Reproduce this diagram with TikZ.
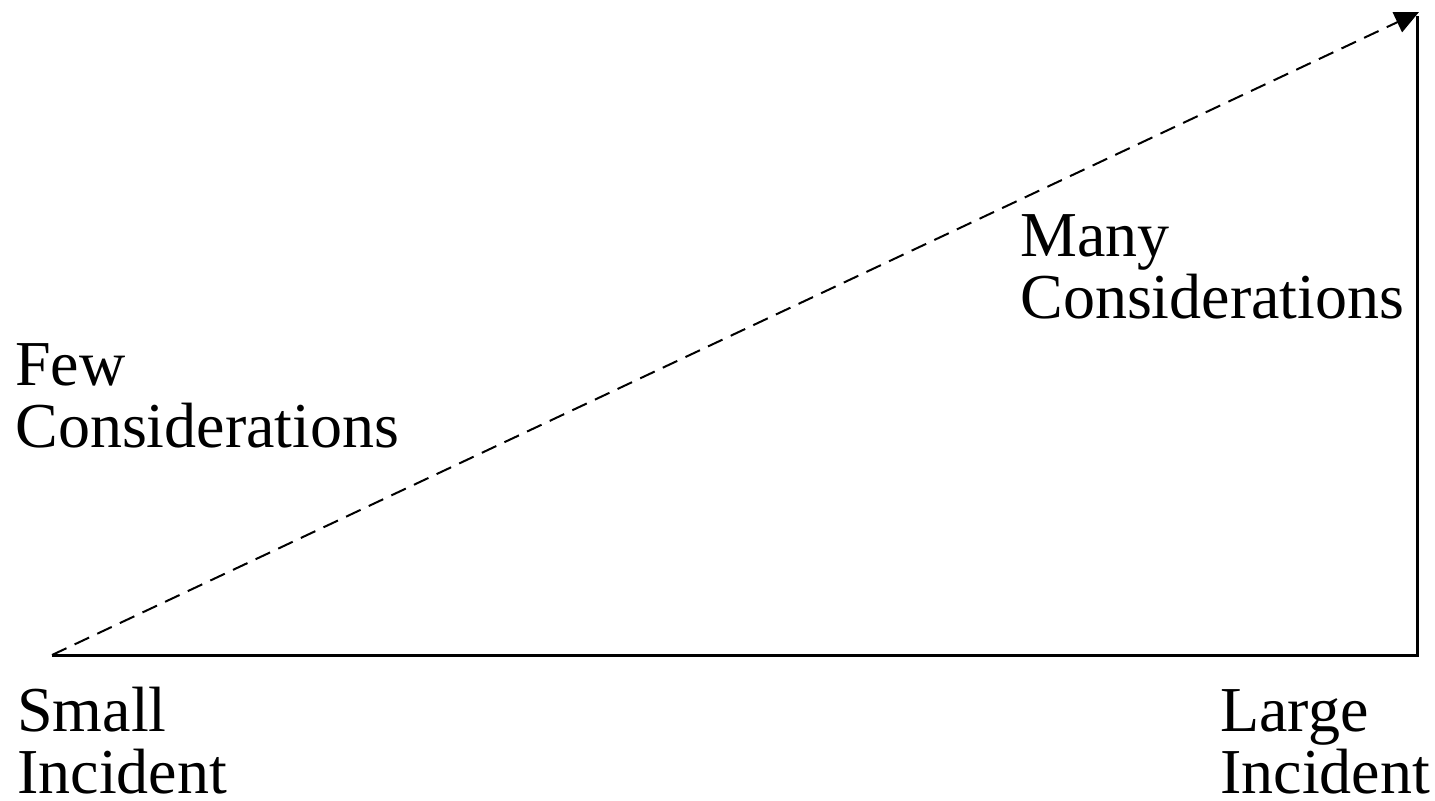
\documentclass[tikz,border=0pt]{standalone}
\usepackage{fontspec}
\setmainfont{Liberation Serif}
\usetikzlibrary{arrows.meta}
\tikzset{
  lbl/.style={align=left, inner sep=0pt, anchor=base west, font=\fontsize{32pt}{31pt}\selectfont},
  axis/.style={line width=1.5pt},
  trend/.style={line width=1pt, dash pattern=on 8pt off 4.5pt, -{Triangle[length=12pt,width=11pt]}}
}
\begin{document}
\begin{tikzpicture}[x=0.5pt,y=-0.5pt]
\useasboundingbox (0,0) rectangle (1435,800);
\coordinate (origin) at (52,655);
\coordinate (corner) at (1417,655);
\coordinate (top) at (1417,16);
\coordinate (tip) at (1419,12);
\draw[axis] (origin) -- (corner) -- (top);
\draw[trend] (origin) -- (tip);
\node[lbl] (few) at (15,447) {Few\\Considerations};
\node[lbl] (many) at (1020,318) {Many\\Considerations};
\node[lbl] (small) at (17,793) {Small\\Incident};
\node[lbl] (large) at (1220,793) {Large\\Incident};
\end{tikzpicture}
\end{document}
